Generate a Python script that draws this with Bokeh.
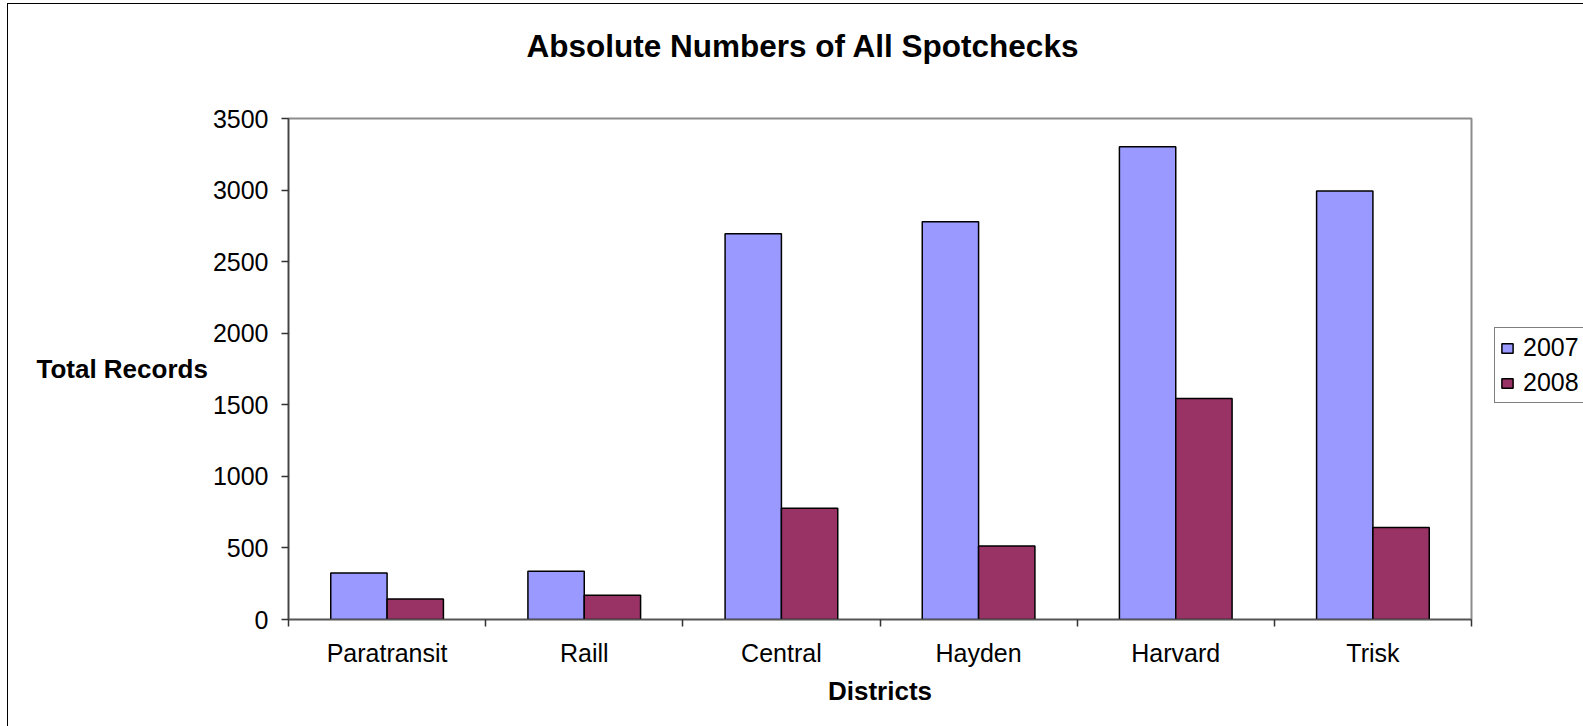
import numpy as np
from bokeh.plotting import figure
from bokeh.models import (Range1d, FixedTicker, Legend, LegendItem,
                          ColumnDataSource, LinearAxis)
from bokeh.embed import file_html
from bokeh.resources import INLINE

districts = ["Paratransit", "Raill", "Central", "Hayden", "Harvard", "Trisk"]
years = ["2007", "2008"]
v2007 = [325, 337, 2694, 2778, 3303, 2993]
v2008 = [144, 170, 778, 514, 1544, 642]
y_ticks = [0, 500, 1000, 1500, 2000, 2500, 3000, 3500]
chart_title = "Absolute Numbers of All Spotchecks"

FONT = "Liberation Sans"
TICK_FS = "25px"
AXT_FS = "26px"
n = len(districts)
centers = np.arange(n) + 0.5
bw = 1 / 3.5  # Excel gap width 150%

p = figure(width=1575, height=722, output_backend="svg", toolbar_location=None,
           x_range=Range1d(0, n), y_range=Range1d(0, 3500),
           frame_width=1183, frame_height=501,
           min_border_left=280, min_border_top=114, min_border_right=112,
           min_border_bottom=107, x_axis_type=None, y_axis_type=None,
           title=chart_title)
p.margin = (4, 0, 0, 8)
p.styles = {"outline": "1.5px solid black"}
p.background_fill_color = "white"
p.border_fill_color = "white"
p.outline_line_color = "#8c8c8c"
p.outline_line_width = 2

p.title.align = "left"
p.title.offset = 238
p.title.text_font = FONT
p.title.text_font_style = "bold"
p.title.text_font_size = "31.5px"
p.title.text_color = "black"
p.title.standoff = 10

src = ColumnDataSource(dict(x1=centers - bw / 2, x2=centers + bw / 2,
                            a=v2007, b=v2008))
r1 = p.vbar(x="x1", top="a", width=bw, bottom=0, source=src,
            fill_color="#9999FF", line_color="black", line_width=1.5)
r2 = p.vbar(x="x2", top="b", width=bw, bottom=0, source=src,
            fill_color="#993366", line_color="black", line_width=1.5)

# x axis
xa = LinearAxis(ticker=FixedTicker(ticks=list(centers), minor_ticks=list(range(n + 1))))
xa.major_label_overrides = {float(c): d for c, d in zip(centers, districts)}
xa.major_tick_out = 0
xa.major_tick_in = 0
xa.minor_tick_out = 7
xa.minor_tick_in = 0
xa.minor_tick_line_color = "#333333"
xa.minor_tick_line_width = 1.5
xa.axis_line_color = "#555555"
xa.axis_line_width = 1.5
xa.major_label_text_font = FONT
xa.major_label_text_font_size = TICK_FS
xa.major_label_text_color = "black"
xa.major_label_standoff = 12
xa.axis_label = "Districts"
xa.axis_label_text_font = FONT
xa.axis_label_text_font_style = "bold"
xa.axis_label_text_font_size = AXT_FS
xa.axis_label_text_color = "black"
xa.axis_label_standoff = 6
p.add_layout(xa, "below")

# y axis
ya = LinearAxis(ticker=FixedTicker(ticks=y_ticks, minor_ticks=[]))
ya.major_tick_out = 7
ya.major_tick_in = 0
ya.major_tick_line_color = "#333333"
ya.major_tick_line_width = 1.5
ya.axis_line_color = "#444444"
ya.axis_line_width = 1.5
ya.major_label_text_font = FONT
ya.major_label_text_font_size = TICK_FS
ya.major_label_text_color = "black"
ya.major_label_standoff = 13
ya.axis_label = "Total Records"
ya.axis_label_orientation = "horizontal"
ya.axis_label_text_font = FONT
ya.axis_label_text_font_style = "bold"
ya.axis_label_text_font_size = AXT_FS
ya.axis_label_text_color = "black"
ya.axis_label_standoff = 2
p.add_layout(ya, "left")

p.xgrid.visible = False
p.ygrid.grid_line_color = "black"
p.ygrid.grid_line_alpha = 0.85
p.ygrid.grid_line_width = 1.2
p.ygrid.ticker = ya.ticker

# white spacer axis (one white tick, empty label) between the frame and the title
sa = LinearAxis(ticker=FixedTicker(ticks=[3.0], minor_ticks=[]))
sa.axis_line_color = None
sa.major_tick_line_color = "white"
sa.minor_tick_line_color = None
sa.major_tick_in = -4
sa.major_tick_out = 50
sa.minor_tick_out = 0
sa.major_label_overrides = {3.0: ""}
sa.major_label_standoff = 0
sa.major_label_text_font_size = "1px"
p.add_layout(sa, "above")

legend = Legend(items=[LegendItem(label=years[0], renderers=[r1]),
                       LegendItem(label=years[1], renderers=[r2])],
                location=(23, 216), orientation="vertical",
                glyph_width=14, glyph_height=12, label_standoff=9,
                padding=5, spacing=6, margin=0,
                label_text_font=FONT, label_text_font_size=TICK_FS,
                label_text_color="black",
                border_line_color="black", border_line_width=1.2,
                background_fill_color="white", background_fill_alpha=1)
p.add_layout(legend, "right")

open("out.html", "w").write(file_html(p, INLINE))
